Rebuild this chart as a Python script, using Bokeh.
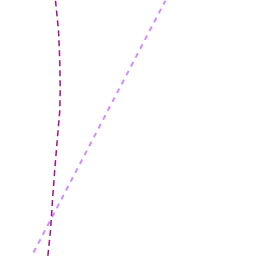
from bokeh.plotting import figure
from bokeh.models import Range1d
from bokeh.embed import file_html
from bokeh.resources import INLINE

# curve series (screen-like units: x right, y down)
curve_y = [0, 30, 60, 90, 110, 140, 170, 200, 230, 256]
curve_x = [55, 58, 59.3, 59.7, 59.3, 56.7, 54.2, 52, 50, 47.3]

# straight series
line_x = [33, 165]
line_y = [252, 0]

p = figure(width=256, height=256, output_backend="svg", toolbar_location=None,
           x_range=Range1d(0, 256), y_range=Range1d(256, 0),
           min_border=0, min_border_left=0, min_border_right=0,
           min_border_top=0, min_border_bottom=0)
p.axis.visible = False
p.grid.visible = False
p.outline_line_color = None
p.background_fill_color = "white"
p.border_fill_color = "white"

p.line(line_x, line_y, line_color="#d08cff", line_width=2, line_dash="5 5")
p.line(curve_x, curve_y, line_color="#a0108a", line_width=1.5, line_dash="6 4")

open("out.html", "w").write(file_html(p, INLINE))
